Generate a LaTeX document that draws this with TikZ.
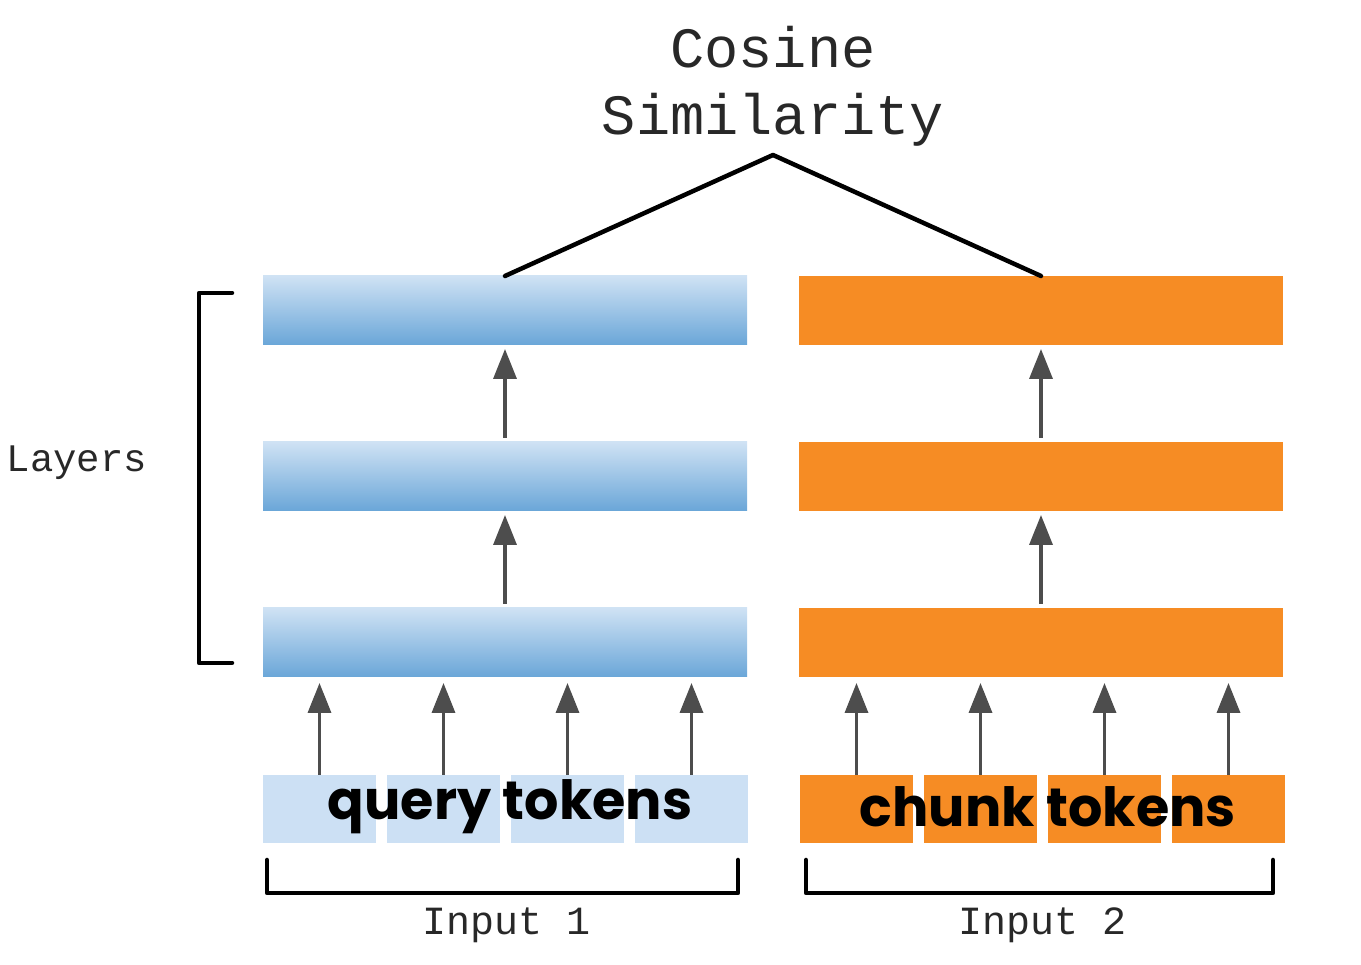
\documentclass[tikz,border=0pt]{standalone}
\usepackage{fontspec}
\usepackage{tikz}
\usepackage{xcolor}
\usetikzlibrary{positioning}
\usetikzlibrary{arrows.meta}
\usetikzlibrary{shadings}
\newfontfamily\labelfont{Liberation Mono}
\newfontfamily\tokenfont{Poppins}
\definecolor{qtop}{RGB}{207,226,244}
\definecolor{qbot}{RGB}{106,166,216}
\definecolor{qtok}{RGB}{204,224,244}
\definecolor{corange}{RGB}{246,140,36}
\definecolor{arrowgray}{RGB}{77,77,77}
\definecolor{lblgray}{RGB}{40,40,40}
\tikzset{layer/.style={rectangle, minimum width=484pt, minimum height=69pt, inner sep=0pt, outer sep=0pt},
qlayer/.style={layer, top color=qtop, bottom color=qbot},
clayer/.style={layer, fill=corange},
tok/.style={rectangle, minimum width=113pt, minimum height=68pt, inner sep=0pt, outer sep=0pt}}

\begin{document}
\begin{tikzpicture}[x=1pt, y=1pt, up/.style={draw=arrowgray, line width=3.5pt, -{Triangle[width=23pt,length=30pt]}},
	bar/.style={line width=4.5pt, line cap=round, line join=round},
	lbl/.style={text=lblgray, inner sep=0pt}]
	\useasboundingbox (0,0) rectangle (1361,965);
	\node[qlayer] (q1) at (505,322.5) {};
	\node[qlayer, above=97pt of q1] (q2) {};
	\node[qlayer, above=97pt of q2] (q3) {};
	\node[clayer, right=52pt of q1] (c1) {};
	\node[clayer, right=52pt of q2] (c2) {};
	\node[clayer, right=52pt of q3] (c3) {};
	\node[tok, fill=qtok] (qt1) at (319.5,156) {};
	\foreach \i [count=\j from 2] in {1,2,3}
		\node[tok, fill=qtok, right=11pt of qt\i] (qt\j) {};
	\node[tok, fill=corange, right=52pt of qt4] (ct1) {};
	\foreach \i [count=\j from 2] in {1,2,3}
		\node[tok, fill=corange, right=11pt of ct\i] (ct\j) {};
	\node[font=\tokenfont\bfseries\fontsize{54}{64}\selectfont, inner sep=0pt] (qtext) at (510,158) {query tokens};
	\node[font=\tokenfont\bfseries\fontsize{54}{64}\selectfont, inner sep=0pt] (ctext) at (1048,158) {chunk tokens};
	\foreach \i in {1,...,4} {
		\draw[up, shorten >=6pt] (qt\i.north) -- (qt\i.north |- q1.south);
		\draw[up, shorten >=6pt] (ct\i.north) -- (ct\i.north |- c1.south);
	}
	\draw[up, shorten <=4pt, shorten >=4pt] (q1.north) -- (q2.south);
	\draw[up, shorten <=4pt, shorten >=4pt] (q2.north) -- (q3.south);
	\draw[up, shorten <=4pt, shorten >=4pt] (c1.north) -- (c2.south);
	\draw[up, shorten <=4pt, shorten >=4pt] (c2.north) -- (c3.south);
	\coordinate (top) at (773,810);
	\draw[bar] (q3.north) -- (top) -- (c3.north);
	\node[lbl, font=\labelfont\fontsize{57}{67}\selectfont, align=center] (sim) at (773,879) {Cosine\\Similarity};
	\draw[bar] (232,672) -- (199,672) -- (199,302) -- (232,302);
	\node[lbl, font=\labelfont\fontsize{39}{44}\selectfont] (layers) at (77,502) {Layers};
	\draw[bar] ([xshift=4pt,yshift=-17pt]qt1.south west) -- ++(0,-33) -| ([xshift=-10pt,yshift=-17pt]qt4.south east);
	\draw[bar] ([xshift=6pt,yshift=-17pt]ct1.south west) -- ++(0,-33) -| ([xshift=-12pt,yshift=-17pt]ct4.south east);
	\node[lbl, font=\labelfont\fontsize{40}{44}\selectfont] (in1) at (507,40) {Input 1};
	\node[lbl, font=\labelfont\fontsize{40}{44}\selectfont] (in2) at (1043,40) {Input 2};
\end{tikzpicture}
\end{document}
